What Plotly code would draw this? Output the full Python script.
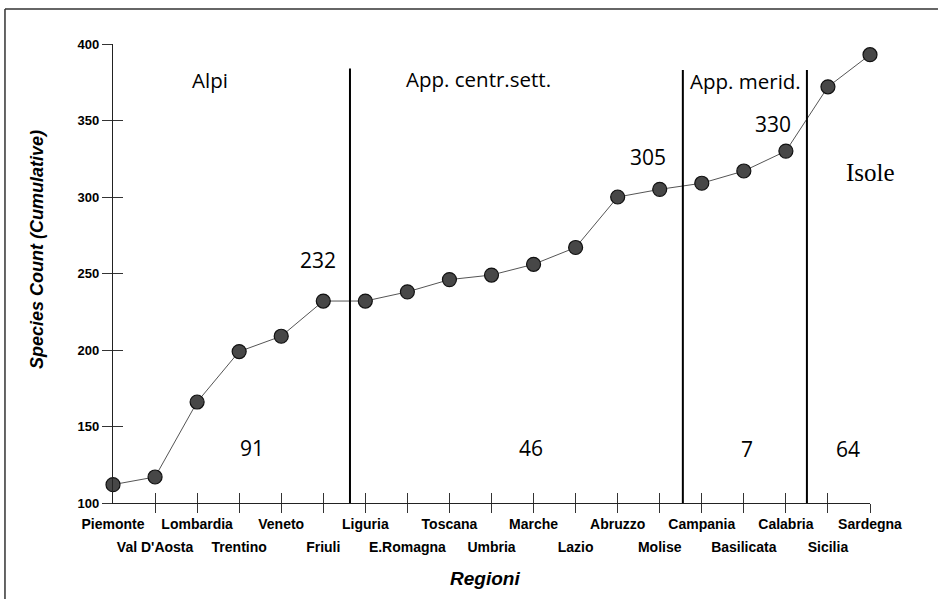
import plotly.graph_objects as go

# ---------------- data ----------------
regions = ["Piemonte", "Val D'Aosta", "Lombardia", "Trentino", "Veneto", "Friuli",
           "Liguria", "E.Romagna", "Toscana", "Umbria", "Marche", "Lazio",
           "Abruzzo", "Molise", "Campania", "Basilicata", "Calabria", "Sicilia", "Sardegna"]
species_cum = [112, 117, 166, 199, 209, 232, 232, 238, 246, 249, 256, 267,
               300, 305, 309, 317, 330, 372, 393]
y_ticks = [100, 150, 200, 250, 300, 350, 400]

group_names = ["Alpi", "App. centr.sett.", "App. merid.", "Isole"]
group_counts = ["91", "46", "7", "64"]
group_boundaries = [5.635, 13.55, 16.5]
cum_labels = ["232", "305", "330", "394"]

# ---------------- figure ----------------
idx = list(range(len(regions)))
fig = go.Figure()

fig.add_trace(go.Scatter(
    x=idx, y=species_cum, mode="lines+markers",
    line=dict(color="#555555", width=1),
    marker=dict(size=14, color="#474747", line=dict(color="#111111", width=1.2)),
    cliponaxis=False, showlegend=False, hoverinfo="x+y"))

# dummy traces so the helper axes (tick marks) are drawn
for k in (2, 3, 4):
    fig.add_trace(go.Scatter(x=[None], y=[None], xaxis=f"x{k}", yaxis=f"y{k}",
                             showlegend=False, hoverinfo="skip"))

xr = [0, len(regions) - 1]
yr = [y_ticks[0], y_ticks[-1]]
tickfont = dict(family="Liberation Sans, Arial", size=14, color="black", weight="bold")

fig.update_layout(
    width=940, height=599,
    margin=dict(l=113, r=70, t=44, b=96),
    paper_bgcolor="white", plot_bgcolor="white",
    font=dict(family="Liberation Sans, Arial", color="black"),
    showlegend=False,
    xaxis=dict(range=xr, tickmode="array", tickvals=idx[::2], ticktext=regions[::2],
               ticks="", showgrid=False, zeroline=False, showline=True,
               linecolor="#222222", linewidth=1.2, tickfont=tickfont,
               ticklabelstandoff=8, fixedrange=True),
    xaxis2=dict(range=xr, overlaying="x", anchor="y", tickmode="array",
                tickvals=idx[1:], ticks="outside", ticklen=9, tickcolor="#333333",
                tickwidth=1, showticklabels=False, showgrid=False, zeroline=False,
                showline=False, fixedrange=True),
    xaxis3=dict(range=xr, overlaying="x", anchor="y", tickmode="array",
                tickvals=idx[1:], ticks="inside", ticklen=10, tickcolor="#333333",
                tickwidth=1, showticklabels=False, showgrid=False, zeroline=False,
                showline=False, fixedrange=True),
    xaxis4=dict(range=xr, overlaying="x", anchor="y", tickmode="array",
                tickvals=idx[1::2], ticktext=regions[1::2], ticks="",
                showgrid=False, zeroline=False, showline=False, tickfont=tickfont,
                ticklabelstandoff=34, fixedrange=True),
    yaxis=dict(range=yr, tickmode="array", tickvals=y_ticks, ticks="outside",
               ticklen=10, tickcolor="#333333", showgrid=False, zeroline=False,
               showline=True, linecolor="#222222", linewidth=1.2,
               tickfont=dict(family="Liberation Sans, Arial", size=13, color="black",
                             weight="bold"),
               fixedrange=True),
    yaxis2=dict(range=yr, overlaying="y", anchor="x", side="left", tickmode="array",
                tickvals=y_ticks, ticks="inside", ticklen=10, tickcolor="#333333",
                showticklabels=False, showgrid=False, zeroline=False, showline=False,
                fixedrange=True),
    yaxis3=dict(range=yr, overlaying="y", anchor="x", visible=False, fixedrange=True),
    yaxis4=dict(range=yr, overlaying="y", anchor="x", visible=False, fixedrange=True),
)

# region separator lines
tops = [384, 383, 383]
for b, t in zip(group_boundaries, tops):
    fig.add_shape(type="line", xref="x", yref="y", x0=b, x1=b, y0=yr[0], y1=t,
                  line=dict(color="black", width=2))

# outer frame (left and top edges)
fig.add_shape(type="line", xref="paper", yref="paper", x0=-0.1427, x1=-0.1427,
              y0=-0.25, y1=1.0763, line=dict(color="#333333", width=1.5))
fig.add_shape(type="line", xref="paper", yref="paper", x0=-0.1427, x1=1.0898,
              y0=1.0763, y1=1.0763, line=dict(color="#333333", width=1.5))

label_font = dict(family="Open Sans, DejaVu Sans", size=20.5, color="black")
num_font = dict(family="Open Sans, DejaVu Sans", size=21, color="black")

# group names
name_pos = [(2.31, 376.5), (8.68, 377), (15.03, 376)]
for txt, (x, y) in zip(group_names[:3], name_pos):
    fig.add_annotation(x=x, y=y, text=txt, showarrow=False, font=label_font)
fig.add_annotation(x=18.0, y=316.3, text=group_names[3], showarrow=False,
                   font=dict(family="Liberation Serif, Times New Roman", size=25, color="black"))

# group counts
count_pos = [(3.3, 136), (9.93, 136), (15.07, 135), (17.47, 135)]
for txt, (x, y) in zip(group_counts, count_pos):
    fig.add_annotation(x=x, y=y, text=txt, showarrow=False, font=num_font)

# cumulative labels
cum_pos = [(4.87, 259), (12.72, 326), (15.69, 347.7), (17.36, 402.6)]
for txt, (x, y) in zip(cum_labels, cum_pos):
    fig.add_annotation(x=x, y=y, text=txt, showarrow=False, font=num_font)

# axis titles
fig.add_annotation(xref="paper", yref="paper", x=(485 - 113) / 757, y=(503 - 578) / 459,
                   xanchor="center", yanchor="middle",
                   text="<b><i>Regioni</i></b>", showarrow=False,
                   font=dict(family="Liberation Sans, Arial", size=19, color="black"))
fig.add_annotation(xref="paper", yref="paper", x=(37 - 113) / 757, y=(503 - 250) / 459,
                   xanchor="center", yanchor="middle",
                   text="<b><i>Species Count (Cumulative)</i></b>", textangle=-90,
                   showarrow=False,
                   font=dict(family="Liberation Sans, Arial", size=18, color="black"))

fig.write_html("out.html", config={"displayModeBar": False},
               post_script="document.body.style.margin='0';document.body.style.overflow='hidden';")
